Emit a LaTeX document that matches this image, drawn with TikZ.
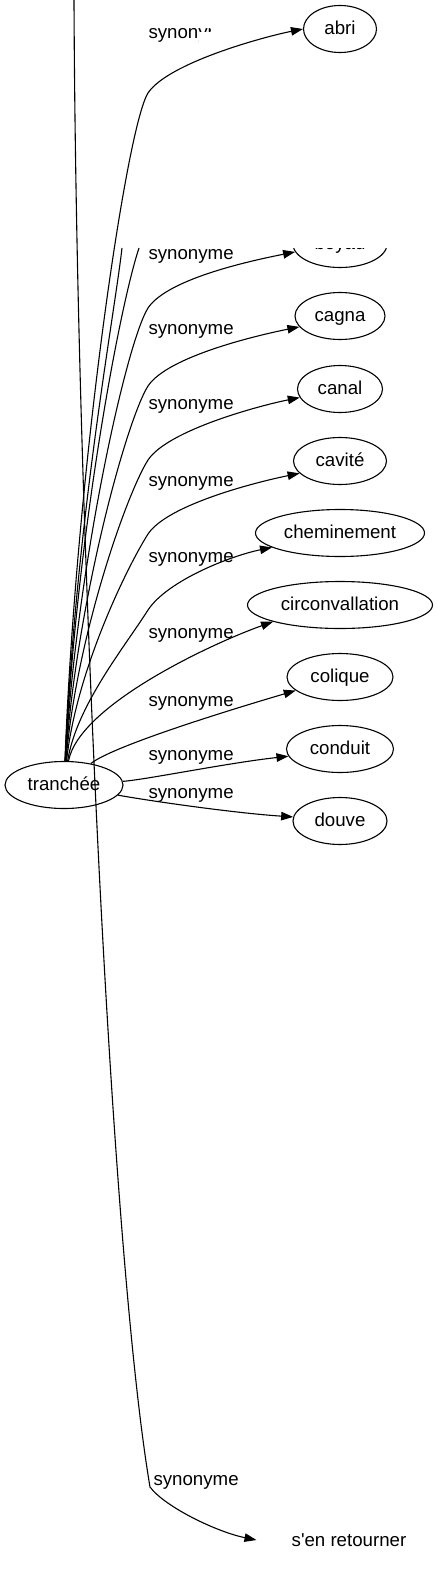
\documentclass[tikz,border=0pt]{standalone}
\usepackage{fontspec}
\setmainfont{Liberation Sans}
\usetikzlibrary{shapes.geometric,arrows.meta}

\tikzset{
  syn/.style={draw,ellipse,inner sep=0pt,minimum height=47pt,text height=15pt,text depth=4pt},
  lbl/.style={anchor=base west,inner sep=0pt},
}

\begin{document}
\begin{tikzpicture}[x=1pt,y=-1pt,>={Triangle[length=12pt,width=8.5pt]},line width=1.1pt,font=\fontsize{18.67}{22}\selectfont]
\useasboundingbox (0,0) rectangle (438,1571);

\node[syn,minimum width=118pt] (tr) at (64,785) {tranchée};

\foreach \n/\t/\y/\w in {abri/abri/29/73, cagna/cagna/316/90, canal/canal/389/85,
    cavite/cavité/461/93, cheminement/cheminement/533/169,
    circonvallation/circonvallation/605/185, colique/colique/677/106,
    conduit/conduit/749/107, douve/douve/821/94}
    \node[syn,minimum width=\w pt] (\n) at (340,\y) {\t};

\begin{scope}
\clip (0,248) rectangle (438,1571);
\node[syn,minimum width=94pt] (boyau) at (340,244) {boyau};
\end{scope}

\begin{scope}
\clip (0,0) rectangle (198,60) (198,0) rectangle (210,32);
\node[lbl] (l-abri) at (148,39) {synonyme};
\end{scope}

% synonymes du haut
\foreach \n/\b/\a/\ly [evaluate=\b as \c using 785-0.45*(785-\b)] in {abri/93/180/39,
    boyau/308/190/259, cagna/386/195/334, canal/460/192/409,
    cavite/534/197/486, cheminement/610/192/562}{
    \draw[->] (tr) .. controls (76,\c) and (126,\b+35) .. (148,\b)
        .. controls (168,\b-30) and ([shift={(-40,8)}]\n.\a) .. (\n.\a);
    \ifnum \ly>40
        \node[lbl] (l-\n) at (148,\ly) {synonyme};
    \fi
}

% synonymes du bas
\draw[->] (tr) .. controls (79,705) and (213,643) .. (circonvallation.194);
\node[lbl] (l-circonvallation) at (148,638) {synonyme};
\draw[->] (tr) .. controls (114,745) and (243,706) .. (colique.197);
\node[lbl] (l-colique) at (148,706) {synonyme};
\draw[->] (tr) .. controls (144,780) and (227,763) .. (conduit.188);
\node[lbl] (l-conduit) at (148,760) {synonyme};
\draw[->] (tr) .. controls (144,800) and (233,813) .. (douve.175);
\node[lbl] (l-douve) at (148,798) {synonyme};

% bouts coupes
\coordinate (cutA) at (122,248);
\coordinate (cutB) at (139,248);
\draw (tr) .. controls (76,520) and (114,318) .. (cutA);
\draw (tr) .. controls (76,540) and (119,308) .. (cutB);

% long arc vers le bas
\coordinate (top) at (74,0);
\node[minimum width=184pt,minimum height=36pt,inner sep=0pt] (ret) at (349,1540) {s\textquotesingle en retourner};
\draw[->] (top) .. controls (76,500) and (110,1250) .. (150,1487)
    .. controls (165,1507) and (217,1532) .. (ret.west);
\node[lbl] (l-ret) at (153,1485) {synonyme};

\end{tikzpicture}
\end{document}
